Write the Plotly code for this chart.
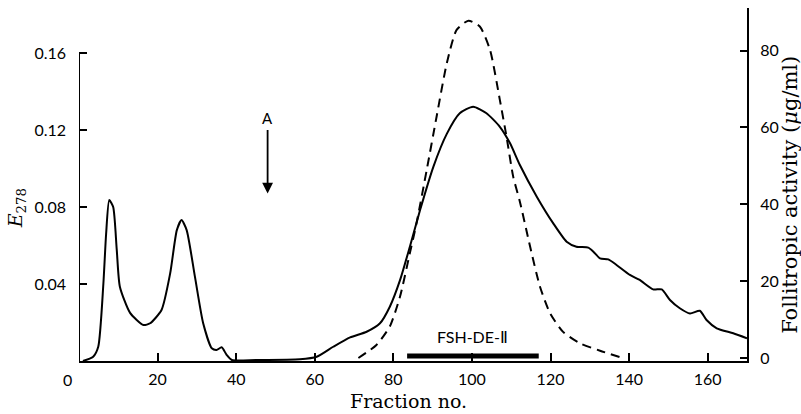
import plotly.graph_objects as go

# Solid curve: E278 (left axis)
frac_e = [1, 3.6, 4.9, 6.2, 6.9, 7.7, 8.7, 9.6, 10.4, 13, 16.4, 18.1, 21, 23.2, 24.9, 26.1, 27.4,
          29.5, 31.6, 33.8, 35, 36.3, 37.6, 38.9, 45, 56.2, 60.5, 64.7, 69, 73.2, 76.6, 79.1,
          81.7, 84.2, 86.8, 90.2, 93.6, 96.9, 100.3, 103.7, 107.1, 109.7, 112.2, 116.5, 120.7,
          124.1, 126.6, 129.6, 130.9, 132.6, 134.7, 136.8, 140.2, 142.7, 146.1, 148.3, 150.4,
          152.9, 155.5, 158, 159.7, 162.3, 166.5, 170]
e278 = [0, 0.0022, 0.0074, 0.040, 0.066, 0.0836, 0.080, 0.058, 0.0386, 0.025, 0.0187, 0.0196,
        0.0265, 0.0455, 0.068, 0.0732, 0.068, 0.0438, 0.0196, 0.0066, 0.0057, 0.0071, 0.0031,
        0.0005, 0.0005, 0.0009, 0.0022, 0.0074, 0.0123, 0.0152, 0.0196, 0.0282, 0.042, 0.0594,
        0.0784, 0.101, 0.118, 0.1287, 0.1321, 0.1287, 0.1217, 0.1131, 0.1018, 0.0854, 0.0715,
        0.062, 0.0594, 0.0589, 0.0568, 0.0533, 0.0528, 0.0499, 0.0447, 0.0421, 0.0372, 0.0372,
        0.0317, 0.0274, 0.0247, 0.0261, 0.0213, 0.017, 0.0144, 0.0118]

# Dashed curve: follitropic activity (right axis, ug/ml)
frac_fsh = [71.1, 75.7, 79.1, 81.7, 84.2, 85.9, 88.5, 91, 93.6, 96.1, 99.1, 102, 104.6, 107.1,
            108.8, 110.5, 112.2, 114.8, 117.3, 119.9, 123.2, 127.5, 132.6, 137.7]
activity = [0, 3.4, 8.2, 16, 27.3, 35.1, 49, 62.8, 76.7, 85.4, 87.8, 86.3, 80.2, 67.2, 57.6,
            47.2, 40.7, 29, 18.6, 11.6, 6.8, 3.8, 1.9, 0.2]

x_ticks = [20, 40, 60, 80, 100, 120, 140, 160]
left_ticks = [0.04, 0.08, 0.12, 0.16]
left_labels = ["0.04", "0.08", "0.12", "0.16"]
right_ticks = [0, 20, 40, 60, 80]

pool_range = [83.5, 117]      # FSH-DE-II pooled fractions
arrow_fraction = 48

TICKFONT = dict(family="Lato", size=16, color="black")
SERIF = "DejaVu Serif"

fig = go.Figure()
fig.add_trace(go.Scatter(x=frac_e, y=e278, mode="lines", line=dict(color="black", width=2, shape="spline", smoothing=0.6),
                         showlegend=False, hoverinfo="skip"))
fig.add_trace(go.Scatter(x=frac_fsh, y=activity, mode="lines", yaxis="y2",
                         line=dict(color="black", width=2, dash="9px,6px", shape="spline", smoothing=0.6),
                         showlegend=False, hoverinfo="skip"))

# FSH-DE-II bar
fig.add_shape(type="line", xref="x", yref="y", x0=pool_range[0], x1=pool_range[1],
              y0=0.0026, y1=0.0026, line=dict(color="black", width=5))
fig.add_annotation(x=sum(pool_range) / 2, y=0.0125, xref="x", yref="y", text="FSH-DE-Ⅱ",
                   showarrow=False, font=dict(family="Lato", size=16, color="black"))

# Left axis line only up to 0.16
fig.add_shape(type="line", xref="x", yref="y", x0=0, x1=0, y0=0, y1=0.16,
              line=dict(color="black", width=2))

# Arrow A
fig.add_annotation(x=arrow_fraction, y=0.087, ax=arrow_fraction, ay=0.1265, xref="x", yref="y",
                   axref="x", ayref="y", text="A", showarrow=True, arrowhead=2, arrowsize=1.2,
                   arrowwidth=1.8, arrowcolor="black", standoff=0, startstandoff=2,
                   font=dict(family="Lato", size=15, color="black"))

# x-axis "0" label
fig.add_annotation(x=0, y=0, xref="x", yref="paper", text="0", showarrow=False,
                   xanchor="center", yanchor="middle",
                   xshift=-12, yshift=-18, font=TICKFONT)

# Axis titles
fig.add_annotation(x=0.494, y=-0.113, xref="paper", yref="paper", text="Fraction no.",
                   xanchor="center", yanchor="middle",
                   showarrow=False, font=dict(family=SERIF, size=19, color="black"))
fig.add_annotation(x=-0.094, y=0.433, xref="paper", yref="paper",
                   text="<i>E</i><sub>278</sub>", textangle=-90, showarrow=False,
                   xanchor="center", yanchor="middle",
                   font=dict(family=SERIF, size=19, color="black"))
fig.add_annotation(x=1.064, y=0.47, xref="paper", yref="paper",
                   text="Follitropic activity (<i>μ</i>g/ml)", textangle=-90, showarrow=False,
                   xanchor="center", yanchor="middle",
                   font=dict(family=SERIF, size=21, color="black"))

fig.update_layout(
    width=801, height=414,
    margin=dict(l=79, r=54, t=8, b=53, autoexpand=False),
    paper_bgcolor="white", plot_bgcolor="white",
    xaxis=dict(range=[0, 170], tickvals=x_ticks, ticks="inside", ticklen=8, tickwidth=1.5,
               tickcolor="black", showline=True, linecolor="black", linewidth=2,
               showgrid=False, zeroline=False, tickfont=TICKFONT, ticklabelstandoff=3),
    yaxis=dict(range=[0, 0.1834], tickvals=left_ticks, ticktext=left_labels, ticks="inside",
               ticklen=8, tickwidth=1.5, tickcolor="black", showline=False, showgrid=False,
               zeroline=False, tickfont=TICKFONT, ticklabelstandoff=12),
    yaxis2=dict(range=[-0.78, 91.1], overlaying="y", side="right", tickvals=right_ticks,
                ticks="inside", ticklen=7, tickwidth=1.5, tickcolor="black", showline=True,
                linecolor="black", linewidth=2, showgrid=False, zeroline=False,
                tickfont=TICKFONT, ticklabelstandoff=8),
)

fig.write_html("out.html", config={"displayModeBar": False},
               post_script="document.body.style.margin='0px';")
